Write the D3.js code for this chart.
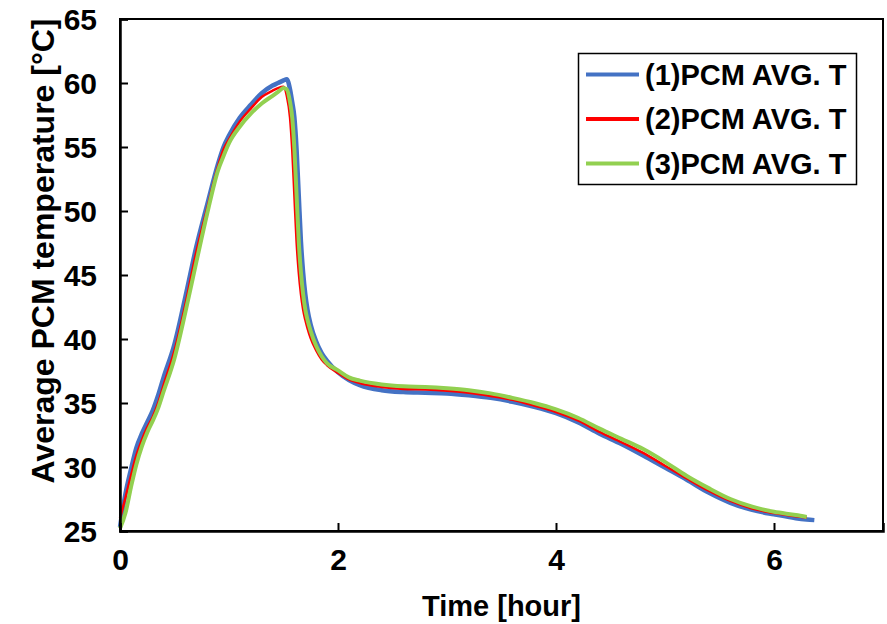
<!DOCTYPE html>
<html>
<head>
<meta charset="utf-8">
<script src="https://cdn.jsdelivr.net/npm/d3@7"></script>
<style>
  body { margin: 0; background: #fff; }
  text { font-family: Arial, "Liberation Sans", sans-serif; font-weight: bold; fill: #000; }
</style>
</head>
<body>
<div id="chart"></div>
<script>
// time in hours, shared by all three series (null = no reading)
const timeHours = [0, 0.05, 0.1, 0.15, 0.2, 0.25, 0.3, 0.35, 0.4, 0.5, 0.6, 0.7, 0.8, 0.9, 0.95, 1.0,
    1.1, 1.2, 1.3, 1.4, 1.45, 1.5, 1.53, 1.56, 1.58, 1.6, 1.62, 1.64, 1.66, 1.68, 1.7, 1.72, 1.75,
    1.8, 1.85, 1.9, 2.0, 2.1, 2.2, 2.4, 2.6, 2.8, 3.0, 3.2, 3.4, 3.6, 3.8, 4.0, 4.2, 4.4, 4.6, 4.8,
    5.0, 5.2, 5.4, 5.6, 5.8, 6.0, 6.2, 6.3, 6.37];

const pcm1 = [25.3, 27.9, 29.8, 31.5, 32.6, 33.5, 34.4, 35.6, 37.0, 39.6, 43.3, 47.2, 50.5, 53.7, 55.0, 55.9,
    57.3, 58.3, 59.2, 59.8, 60.0, 60.2, 60.3, 59.5, 58.5, 57.3, 54.8, 51.2, 47.6, 45.2, 43.5, 42.3, 41.1,
    39.8, 38.9, 38.3, 37.4, 36.8, 36.4, 36.0, 35.85, 35.8, 35.75, 35.6, 35.4, 35.1, 34.7, 34.2, 33.5, 32.6, 31.8, 30.9,
    29.95, 29.0, 28.0, 27.2, 26.65, 26.3, 26.0, 25.9, 25.85];

const pcm2 = [26.0, 27.6, 29.3, 30.9, 32.1, 33.1, 33.9, 35.0, 36.4, 39.1, 42.7, 46.8, 50.2, 53.5, 54.8, 55.6,
    57.0, 58.0, 58.9, 59.4, 59.6, 59.7, 59.0, 57.3, 54.8, 51.2, 47.6, 45.2, 43.5, 42.3, 41.5, 40.85, 40.05,
    39.1, 38.4, 37.95, 37.35, 36.85, 36.55, 36.25, 36.1, 36.05, 35.95, 35.8, 35.55, 35.25, 34.8, 34.3, 33.65, 32.75, 31.95, 31.1,
    30.1, 29.1, 28.15, 27.35, 26.75, 26.4, 26.15, 26.05, null];

const pcm3 = [25.2, 26.4, 28.4, 30.2, 31.6, 32.7, 33.6, 34.6, 35.9, 38.5, 42.1, 46.0, 49.8, 53.2, 54.3, 55.3,
    56.6, 57.6, 58.4, 59.0, 59.3, 59.6, 59.5, 58.5, 57.3, 54.8, 51.2, 47.6, 45.2, 43.5, 42.3, 41.5, 40.6,
    39.45, 38.65, 38.1, 37.55, 37.0, 36.75, 36.45, 36.3, 36.25, 36.15, 36.0, 35.75, 35.4, 35.0, 34.5, 33.85, 33.0, 32.2, 31.4,
    30.4, 29.3, 28.35, 27.5, 26.9, 26.5, 26.25, 26.1, null];

const seriesNames = ["(1)PCM AVG. T", "(2)PCM AVG. T", "(3)PCM AVG. T"];
const seriesColors = ["#4472C4", "#FF0000", "#92D050"];
const seriesWidths = [4.5, 2.5, 4];
const xTicks = [0, 2, 4, 6];
const yTicks = [25, 30, 35, 40, 45, 50, 55, 60, 65];

const width = 887, height = 624;
const margin = {left: 120, top: 19, right: 4, bottom: 93};
const innerW = width - margin.left - margin.right,
    innerH = height - margin.top - margin.bottom;

const svg = d3.select("#chart")
    .append("svg")
    .attr("width", width)
    .attr("height", height);

const g = svg.append("g")
    .attr("transform", "translate(" + margin.left + "," + margin.top + ")");

const x = d3.scaleLinear().domain([0, 7]).range([0, innerW]);
const y = d3.scaleLinear().domain([25, 65]).range([innerH, 0]);

// series lines
const data = [pcm1, pcm2, pcm3].map(vals => timeHours.map((t, i) => ({t: t, v: vals[i]})));

const line = d3.line()
    .defined(d => d.v != null)
    .x(d => x(d.t))
    .y(d => y(d.v))
    .curve(d3.curveMonotoneX);

g.selectAll("path.series")
    .data(data)
    .enter()
    .append("path")
    .attr("class", "series")
    .attr("d", line)
    .attr("fill", "none")
    .attr("stroke", (d, i) => seriesColors[i])
    .attr("stroke-width", (d, i) => seriesWidths[i])
    .attr("stroke-linejoin", "round");

// frame
g.append("rect")
    .attr("x", 0).attr("y", 0)
    .attr("width", innerW).attr("height", innerH)
    .attr("fill", "none")
    .attr("stroke", "#000")
    .attr("stroke-width", 2);

// axes with inside ticks
const xAxis = g.append("g")
    .attr("transform", "translate(0," + innerH + ")")
    .call(d3.axisBottom(x).tickValues(xTicks).tickSize(-8).tickPadding(18).tickFormat(d3.format("d")));

const yAxis = g.append("g")
    .call(d3.axisLeft(y).tickValues(yTicks).tickSize(-8).tickPadding(23).tickFormat(d3.format("d")));

[xAxis, yAxis].forEach(a => {
    a.select(".domain").attr("stroke", "#000").attr("stroke-width", 2.5);
    a.selectAll(".tick line").attr("stroke", "#000").attr("stroke-width", 2);
    a.selectAll(".tick text").attr("font-size", 30).attr("font-family", null);
});
xAxis.selectAll(".tick text").attr("dy", "0.71em");
yAxis.selectAll(".tick text").attr("dy", "0.36em");

// axis titles
svg.append("text")
    .attr("x", margin.left + innerW / 2)
    .attr("y", 616)
    .attr("text-anchor", "middle")
    .attr("font-size", 29)
    .text("Time [hour]");

svg.append("text")
    .attr("transform", "translate(54,251) rotate(-90)")
    .attr("text-anchor", "middle")
    .attr("font-size", 32)
    .text("Average PCM temperature [°C]");

// legend
const legend = svg.append("g");
legend.append("rect")
    .attr("x", 578.5).attr("y", 53.5)
    .attr("width", 278).attr("height", 131)
    .attr("fill", "#fff")
    .attr("stroke", "#000")
    .attr("stroke-width", 1.5);

const items = legend.selectAll("g.item")
    .data(seriesNames)
    .enter()
    .append("g")
    .attr("class", "item")
    .attr("transform", (d, i) => "translate(586," + (74.5 + i * 44.5) + ")");

items.append("line")
    .attr("x1", 0).attr("x2", 53)
    .attr("stroke", (d, i) => seriesColors[i])
    .attr("stroke-width", 4);

items.append("text")
    .attr("x", 59)
    .attr("dy", "0.36em")
    .attr("font-size", 29)
    .text(d => d);
</script>
</body>
</html>
